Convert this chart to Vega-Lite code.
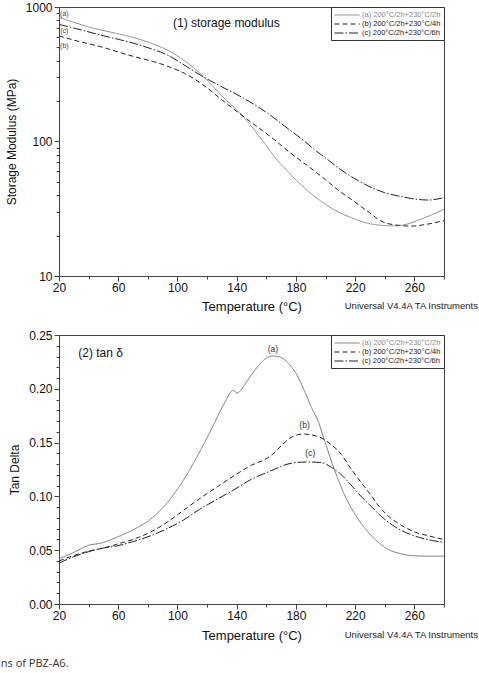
{
  "$schema": "https://vega.github.io/schema/vega-lite/v6.json",
  "background": "white",
  "padding": {"left": 0, "top": 0, "right": 0, "bottom": 0},
  "config": {
    "font": "Liberation Sans",
    "view": {"stroke": "#444", "strokeWidth": 1},
    "axis": {
      "grid": false,
      "domainColor": "#444",
      "tickColor": "#444",
      "labelColor": "#111",
      "titleColor": "#111",
      "labelFont": "Liberation Sans",
      "titleFont": "Liberation Sans",
      "labelFontSize": 12,
      "titleFontSize": 12,
      "titleFontWeight": "normal",
      "labelOverlap": false,
      "labelFlush": false,
      "tickCount": 100
    },
    "legend": {
      "title": null,
      "orient": "top-right",
      "offset": 0,
      "padding": 3,
      "strokeColor": "#333",
      "fillColor": "white",
      "symbolType": "M-1,0H4.6",
      "symbolSize": 81,
      "symbolStrokeWidth": 1,
      "labelFont": "Liberation Sans",
      "labelFontSize": 7.5,
      "labelOffset": 18,
      "rowPadding": 0,
      "labelLimit": 200
    }
  },
  "datasets": {
    "modulus": [
      {"T": 20, "E": 838, "sample": "(a) 200°C/2h+230°C/2h"},
      {"T": 30, "E": 770, "sample": "(a) 200°C/2h+230°C/2h"},
      {"T": 41, "E": 706, "sample": "(a) 200°C/2h+230°C/2h"},
      {"T": 55, "E": 650, "sample": "(a) 200°C/2h+230°C/2h"},
      {"T": 70.6, "E": 591, "sample": "(a) 200°C/2h+230°C/2h"},
      {"T": 82, "E": 540, "sample": "(a) 200°C/2h+230°C/2h"},
      {"T": 93, "E": 479, "sample": "(a) 200°C/2h+230°C/2h"},
      {"T": 100, "E": 432, "sample": "(a) 200°C/2h+230°C/2h"},
      {"T": 107, "E": 382, "sample": "(a) 200°C/2h+230°C/2h"},
      {"T": 116, "E": 315, "sample": "(a) 200°C/2h+230°C/2h"},
      {"T": 123, "E": 264, "sample": "(a) 200°C/2h+230°C/2h"},
      {"T": 130, "E": 218, "sample": "(a) 200°C/2h+230°C/2h"},
      {"T": 140, "E": 172, "sample": "(a) 200°C/2h+230°C/2h"},
      {"T": 147.5, "E": 140, "sample": "(a) 200°C/2h+230°C/2h"},
      {"T": 155, "E": 110, "sample": "(a) 200°C/2h+230°C/2h"},
      {"T": 160, "E": 93, "sample": "(a) 200°C/2h+230°C/2h"},
      {"T": 165.5, "E": 77, "sample": "(a) 200°C/2h+230°C/2h"},
      {"T": 175, "E": 59, "sample": "(a) 200°C/2h+230°C/2h"},
      {"T": 184, "E": 47, "sample": "(a) 200°C/2h+230°C/2h"},
      {"T": 195, "E": 37.3, "sample": "(a) 200°C/2h+230°C/2h"},
      {"T": 206, "E": 31, "sample": "(a) 200°C/2h+230°C/2h"},
      {"T": 218, "E": 27, "sample": "(a) 200°C/2h+230°C/2h"},
      {"T": 229, "E": 24.6, "sample": "(a) 200°C/2h+230°C/2h"},
      {"T": 238, "E": 23.8, "sample": "(a) 200°C/2h+230°C/2h"},
      {"T": 247, "E": 23.6, "sample": "(a) 200°C/2h+230°C/2h"},
      {"T": 255, "E": 24.3, "sample": "(a) 200°C/2h+230°C/2h"},
      {"T": 263, "E": 26.1, "sample": "(a) 200°C/2h+230°C/2h"},
      {"T": 272, "E": 28.6, "sample": "(a) 200°C/2h+230°C/2h"},
      {"T": 280, "E": 31.3, "sample": "(a) 200°C/2h+230°C/2h"},

      {"T": 20, "E": 609, "sample": "(b) 200°C/2h+230°C/4h"},
      {"T": 35, "E": 549, "sample": "(b) 200°C/2h+230°C/4h"},
      {"T": 48, "E": 507, "sample": "(b) 200°C/2h+230°C/4h"},
      {"T": 60, "E": 463, "sample": "(b) 200°C/2h+230°C/4h"},
      {"T": 71, "E": 427, "sample": "(b) 200°C/2h+230°C/4h"},
      {"T": 83, "E": 395, "sample": "(b) 200°C/2h+230°C/4h"},
      {"T": 93, "E": 364, "sample": "(b) 200°C/2h+230°C/4h"},
      {"T": 105, "E": 320, "sample": "(b) 200°C/2h+230°C/4h"},
      {"T": 116, "E": 270, "sample": "(b) 200°C/2h+230°C/4h"},
      {"T": 130, "E": 204, "sample": "(b) 200°C/2h+230°C/4h"},
      {"T": 147.5, "E": 145, "sample": "(b) 200°C/2h+230°C/4h"},
      {"T": 155, "E": 126, "sample": "(b) 200°C/2h+230°C/4h"},
      {"T": 165.5, "E": 103, "sample": "(b) 200°C/2h+230°C/4h"},
      {"T": 174, "E": 86, "sample": "(b) 200°C/2h+230°C/4h"},
      {"T": 184, "E": 71, "sample": "(b) 200°C/2h+230°C/4h"},
      {"T": 192, "E": 61, "sample": "(b) 200°C/2h+230°C/4h"},
      {"T": 200, "E": 52, "sample": "(b) 200°C/2h+230°C/4h"},
      {"T": 208, "E": 44, "sample": "(b) 200°C/2h+230°C/4h"},
      {"T": 218, "E": 36.7, "sample": "(b) 200°C/2h+230°C/4h"},
      {"T": 228, "E": 30.5, "sample": "(b) 200°C/2h+230°C/4h"},
      {"T": 240, "E": 24.9, "sample": "(b) 200°C/2h+230°C/4h"},
      {"T": 250, "E": 23.8, "sample": "(b) 200°C/2h+230°C/4h"},
      {"T": 258, "E": 23.5, "sample": "(b) 200°C/2h+230°C/4h"},
      {"T": 268, "E": 24.2, "sample": "(b) 200°C/2h+230°C/4h"},
      {"T": 280, "E": 25.8, "sample": "(b) 200°C/2h+230°C/4h"},

      {"T": 20, "E": 743, "sample": "(c) 200°C/2h+230°C/6h"},
      {"T": 35, "E": 675, "sample": "(c) 200°C/2h+230°C/6h"},
      {"T": 48, "E": 619, "sample": "(c) 200°C/2h+230°C/6h"},
      {"T": 60, "E": 575, "sample": "(c) 200°C/2h+230°C/6h"},
      {"T": 70.6, "E": 537, "sample": "(c) 200°C/2h+230°C/6h"},
      {"T": 82, "E": 490, "sample": "(c) 200°C/2h+230°C/6h"},
      {"T": 93.2, "E": 440, "sample": "(c) 200°C/2h+230°C/6h"},
      {"T": 105, "E": 368, "sample": "(c) 200°C/2h+230°C/6h"},
      {"T": 115.8, "E": 310, "sample": "(c) 200°C/2h+230°C/6h"},
      {"T": 130, "E": 255, "sample": "(c) 200°C/2h+230°C/6h"},
      {"T": 143, "E": 215, "sample": "(c) 200°C/2h+230°C/6h"},
      {"T": 152, "E": 188, "sample": "(c) 200°C/2h+230°C/6h"},
      {"T": 161, "E": 162, "sample": "(c) 200°C/2h+230°C/6h"},
      {"T": 172, "E": 131, "sample": "(c) 200°C/2h+230°C/6h"},
      {"T": 183.6, "E": 105, "sample": "(c) 200°C/2h+230°C/6h"},
      {"T": 192, "E": 88, "sample": "(c) 200°C/2h+230°C/6h"},
      {"T": 201.7, "E": 73, "sample": "(c) 200°C/2h+230°C/6h"},
      {"T": 210, "E": 62, "sample": "(c) 200°C/2h+230°C/6h"},
      {"T": 217.6, "E": 54.7, "sample": "(c) 200°C/2h+230°C/6h"},
      {"T": 230, "E": 46, "sample": "(c) 200°C/2h+230°C/6h"},
      {"T": 240, "E": 41.6, "sample": "(c) 200°C/2h+230°C/6h"},
      {"T": 251.4, "E": 38.9, "sample": "(c) 200°C/2h+230°C/6h"},
      {"T": 260, "E": 37.4, "sample": "(c) 200°C/2h+230°C/6h"},
      {"T": 269.5, "E": 36.7, "sample": "(c) 200°C/2h+230°C/6h"},
      {"T": 280, "E": 38.3, "sample": "(c) 200°C/2h+230°C/6h"}
    ],
    "tand": [
      {"T": 20, "tan": 0.042, "sample": "(a) 200°C/2h+230°C/2h"},
      {"T": 30, "tan": 0.048, "sample": "(a) 200°C/2h+230°C/2h"},
      {"T": 40, "tan": 0.0545, "sample": "(a) 200°C/2h+230°C/2h"},
      {"T": 48, "tan": 0.0565, "sample": "(a) 200°C/2h+230°C/2h"},
      {"T": 59, "tan": 0.062, "sample": "(a) 200°C/2h+230°C/2h"},
      {"T": 70, "tan": 0.069, "sample": "(a) 200°C/2h+230°C/2h"},
      {"T": 82, "tan": 0.079, "sample": "(a) 200°C/2h+230°C/2h"},
      {"T": 93, "tan": 0.094, "sample": "(a) 200°C/2h+230°C/2h"},
      {"T": 104, "tan": 0.115, "sample": "(a) 200°C/2h+230°C/2h"},
      {"T": 110, "tan": 0.129, "sample": "(a) 200°C/2h+230°C/2h"},
      {"T": 116, "tan": 0.144, "sample": "(a) 200°C/2h+230°C/2h"},
      {"T": 122, "tan": 0.16, "sample": "(a) 200°C/2h+230°C/2h"},
      {"T": 127, "tan": 0.174, "sample": "(a) 200°C/2h+230°C/2h"},
      {"T": 133, "tan": 0.19, "sample": "(a) 200°C/2h+230°C/2h"},
      {"T": 136, "tan": 0.197, "sample": "(a) 200°C/2h+230°C/2h"},
      {"T": 138, "tan": 0.1985, "sample": "(a) 200°C/2h+230°C/2h"},
      {"T": 140, "tan": 0.196, "sample": "(a) 200°C/2h+230°C/2h"},
      {"T": 142, "tan": 0.1975, "sample": "(a) 200°C/2h+230°C/2h"},
      {"T": 145, "tan": 0.203, "sample": "(a) 200°C/2h+230°C/2h"},
      {"T": 150, "tan": 0.213, "sample": "(a) 200°C/2h+230°C/2h"},
      {"T": 155, "tan": 0.222, "sample": "(a) 200°C/2h+230°C/2h"},
      {"T": 160, "tan": 0.2285, "sample": "(a) 200°C/2h+230°C/2h"},
      {"T": 165, "tan": 0.2305, "sample": "(a) 200°C/2h+230°C/2h"},
      {"T": 170, "tan": 0.229, "sample": "(a) 200°C/2h+230°C/2h"},
      {"T": 175, "tan": 0.2235, "sample": "(a) 200°C/2h+230°C/2h"},
      {"T": 180, "tan": 0.2145, "sample": "(a) 200°C/2h+230°C/2h"},
      {"T": 185, "tan": 0.2005, "sample": "(a) 200°C/2h+230°C/2h"},
      {"T": 190, "tan": 0.184, "sample": "(a) 200°C/2h+230°C/2h"},
      {"T": 195, "tan": 0.17, "sample": "(a) 200°C/2h+230°C/2h"},
      {"T": 200, "tan": 0.149, "sample": "(a) 200°C/2h+230°C/2h"},
      {"T": 206, "tan": 0.125, "sample": "(a) 200°C/2h+230°C/2h"},
      {"T": 212, "tan": 0.104, "sample": "(a) 200°C/2h+230°C/2h"},
      {"T": 217.5, "tan": 0.089, "sample": "(a) 200°C/2h+230°C/2h"},
      {"T": 223, "tan": 0.077, "sample": "(a) 200°C/2h+230°C/2h"},
      {"T": 229, "tan": 0.0665, "sample": "(a) 200°C/2h+230°C/2h"},
      {"T": 236, "tan": 0.057, "sample": "(a) 200°C/2h+230°C/2h"},
      {"T": 242, "tan": 0.051, "sample": "(a) 200°C/2h+230°C/2h"},
      {"T": 250, "tan": 0.047, "sample": "(a) 200°C/2h+230°C/2h"},
      {"T": 260, "tan": 0.0448, "sample": "(a) 200°C/2h+230°C/2h"},
      {"T": 270, "tan": 0.0445, "sample": "(a) 200°C/2h+230°C/2h"},
      {"T": 280, "tan": 0.0445, "sample": "(a) 200°C/2h+230°C/2h"},

      {"T": 20, "tan": 0.04, "sample": "(b) 200°C/2h+230°C/4h"},
      {"T": 30, "tan": 0.045, "sample": "(b) 200°C/2h+230°C/4h"},
      {"T": 41, "tan": 0.0495, "sample": "(b) 200°C/2h+230°C/4h"},
      {"T": 50, "tan": 0.052, "sample": "(b) 200°C/2h+230°C/4h"},
      {"T": 59, "tan": 0.0555, "sample": "(b) 200°C/2h+230°C/4h"},
      {"T": 70, "tan": 0.06, "sample": "(b) 200°C/2h+230°C/4h"},
      {"T": 82, "tan": 0.067, "sample": "(b) 200°C/2h+230°C/4h"},
      {"T": 93, "tan": 0.076, "sample": "(b) 200°C/2h+230°C/4h"},
      {"T": 104, "tan": 0.087, "sample": "(b) 200°C/2h+230°C/4h"},
      {"T": 115, "tan": 0.098, "sample": "(b) 200°C/2h+230°C/4h"},
      {"T": 127, "tan": 0.109, "sample": "(b) 200°C/2h+230°C/4h"},
      {"T": 138, "tan": 0.119, "sample": "(b) 200°C/2h+230°C/4h"},
      {"T": 150, "tan": 0.129, "sample": "(b) 200°C/2h+230°C/4h"},
      {"T": 160, "tan": 0.135, "sample": "(b) 200°C/2h+230°C/4h"},
      {"T": 165, "tan": 0.14, "sample": "(b) 200°C/2h+230°C/4h"},
      {"T": 170, "tan": 0.147, "sample": "(b) 200°C/2h+230°C/4h"},
      {"T": 177, "tan": 0.155, "sample": "(b) 200°C/2h+230°C/4h"},
      {"T": 185, "tan": 0.158, "sample": "(b) 200°C/2h+230°C/4h"},
      {"T": 191, "tan": 0.157, "sample": "(b) 200°C/2h+230°C/4h"},
      {"T": 197, "tan": 0.1545, "sample": "(b) 200°C/2h+230°C/4h"},
      {"T": 204, "tan": 0.148, "sample": "(b) 200°C/2h+230°C/4h"},
      {"T": 210.7, "tan": 0.139, "sample": "(b) 200°C/2h+230°C/4h"},
      {"T": 217, "tan": 0.126, "sample": "(b) 200°C/2h+230°C/4h"},
      {"T": 224, "tan": 0.113, "sample": "(b) 200°C/2h+230°C/4h"},
      {"T": 231, "tan": 0.1005, "sample": "(b) 200°C/2h+230°C/4h"},
      {"T": 235.4, "tan": 0.092, "sample": "(b) 200°C/2h+230°C/4h"},
      {"T": 243, "tan": 0.081, "sample": "(b) 200°C/2h+230°C/4h"},
      {"T": 251.4, "tan": 0.073, "sample": "(b) 200°C/2h+230°C/4h"},
      {"T": 260, "tan": 0.067, "sample": "(b) 200°C/2h+230°C/4h"},
      {"T": 269.5, "tan": 0.0634, "sample": "(b) 200°C/2h+230°C/4h"},
      {"T": 280, "tan": 0.0598, "sample": "(b) 200°C/2h+230°C/4h"},

      {"T": 20, "tan": 0.038, "sample": "(c) 200°C/2h+230°C/6h"},
      {"T": 30, "tan": 0.044, "sample": "(c) 200°C/2h+230°C/6h"},
      {"T": 41, "tan": 0.049, "sample": "(c) 200°C/2h+230°C/6h"},
      {"T": 50, "tan": 0.052, "sample": "(c) 200°C/2h+230°C/6h"},
      {"T": 59, "tan": 0.054, "sample": "(c) 200°C/2h+230°C/6h"},
      {"T": 70, "tan": 0.058, "sample": "(c) 200°C/2h+230°C/6h"},
      {"T": 82, "tan": 0.0635, "sample": "(c) 200°C/2h+230°C/6h"},
      {"T": 93, "tan": 0.07, "sample": "(c) 200°C/2h+230°C/6h"},
      {"T": 104, "tan": 0.078, "sample": "(c) 200°C/2h+230°C/6h"},
      {"T": 115, "tan": 0.088, "sample": "(c) 200°C/2h+230°C/6h"},
      {"T": 127, "tan": 0.0975, "sample": "(c) 200°C/2h+230°C/6h"},
      {"T": 138, "tan": 0.106, "sample": "(c) 200°C/2h+230°C/6h"},
      {"T": 150, "tan": 0.116, "sample": "(c) 200°C/2h+230°C/6h"},
      {"T": 160, "tan": 0.122, "sample": "(c) 200°C/2h+230°C/6h"},
      {"T": 166, "tan": 0.1255, "sample": "(c) 200°C/2h+230°C/6h"},
      {"T": 172, "tan": 0.129, "sample": "(c) 200°C/2h+230°C/6h"},
      {"T": 180, "tan": 0.1315, "sample": "(c) 200°C/2h+230°C/6h"},
      {"T": 188, "tan": 0.132, "sample": "(c) 200°C/2h+230°C/6h"},
      {"T": 197, "tan": 0.1315, "sample": "(c) 200°C/2h+230°C/6h"},
      {"T": 204, "tan": 0.127, "sample": "(c) 200°C/2h+230°C/6h"},
      {"T": 210, "tan": 0.121, "sample": "(c) 200°C/2h+230°C/6h"},
      {"T": 217, "tan": 0.111, "sample": "(c) 200°C/2h+230°C/6h"},
      {"T": 224, "tan": 0.1, "sample": "(c) 200°C/2h+230°C/6h"},
      {"T": 231, "tan": 0.0905, "sample": "(c) 200°C/2h+230°C/6h"},
      {"T": 238, "tan": 0.081, "sample": "(c) 200°C/2h+230°C/6h"},
      {"T": 245, "tan": 0.0735, "sample": "(c) 200°C/2h+230°C/6h"},
      {"T": 254, "tan": 0.0665, "sample": "(c) 200°C/2h+230°C/6h"},
      {"T": 263, "tan": 0.062, "sample": "(c) 200°C/2h+230°C/6h"},
      {"T": 272, "tan": 0.059, "sample": "(c) 200°C/2h+230°C/6h"},
      {"T": 280, "tan": 0.0573, "sample": "(c) 200°C/2h+230°C/6h"}
    ],
    "modulusTags": [
      {"T": 23.6, "E": 887, "tag": "(a)"},
      {"T": 23.6, "E": 667, "tag": "(c)"},
      {"T": 23.6, "E": 513, "tag": "(b)"}
    ],
    "tandTags": [
      {"T": 164.4, "tan": 0.2367, "tag": "(a)"},
      {"T": 185.8, "tan": 0.1662, "tag": "(b)"},
      {"T": 189.7, "tan": 0.1402, "tag": "(c)"}
    ]
  },
  "title": {
    "text": "ns of PBZ-A6.",
    "orient": "bottom",
    "anchor": "start",
    "font": "Open Sans",
    "fontSize": 11,
    "fontWeight": "normal",
    "color": "#333",
    "offset": 15,
    "dx": -4
  },
  "spacing": 14,
  "resolve": {"scale": {"color": "independent", "strokeDash": "independent"}},
  "vconcat": [
    {
      "width": 385,
      "height": 269,
      "title": {
        "text": "Universal V4.4A TA Instruments",
        "orient": "bottom",
        "anchor": "end",
        "frame": "group",
        "font": "Liberation Sans",
        "fontSize": 9.5,
        "fontWeight": "normal",
        "color": "#222",
        "offset": -12,
        "dx": 34
      },
      "layer": [
        {
          "data": {"name": "modulus"},
          "mark": {"type": "line", "strokeWidth": 1, "interpolate": "monotone"},
          "encoding": {
            "x": {
              "field": "T", "type": "quantitative",
              "scale": {"domain": [20, 280], "nice": false, "zero": false},
              "axis": {
                "title": "Temperature (°C)",
                "titleFontSize": 13,
                "tickCount": 100,
                "values": [20, 40, 60, 80, 100, 120, 140, 160, 180, 200, 220, 240, 260, 280],
                "labelExpr": "datum.value % 40 === 20 ? datum.label : ''",
                "tickSize": {"condition": {"test": "datum.value % 40 === 20", "value": 5}, "value": 3},
                "labelOverlap": false,
                "labelPadding": 1,
                "titlePadding": 7
              }
            },
            "y": {
              "field": "E", "type": "quantitative",
              "scale": {"type": "log", "domain": [10, 1000], "nice": false},
              "axis": {
                "title": "Storage Modulus (MPa)",
                "tickCount": 100,
                "values": [10, 20, 30, 40, 50, 60, 70, 80, 90, 100, 200, 300, 400, 500, 600, 700, 800, 900, 1000],
                "format": "d",
                "labelExpr": "datum.value === 10 || datum.value === 100 || datum.value === 1000 ? datum.label : ''",
                "tickSize": {"condition": {"test": "datum.value === 10 || datum.value === 100 || datum.value === 1000", "value": 5}, "value": 3},
                "labelOverlap": false,
                "labelPadding": 2,
                "titlePadding": 7
              }
            },
            "color": {
              "field": "sample", "type": "nominal",
              "scale": {
                "domain": ["(a) 200°C/2h+230°C/2h", "(b) 200°C/2h+230°C/4h", "(c) 200°C/2h+230°C/6h"],
                "range": ["#8a8a8a", "#222222", "#222222"]
              },
              "legend": {"encode": {"labels": {"update": {"fill": {"signal": "indexof(datum.label, '(a)') === 0 ? '#8a8a8a' : '#222222'"}}}}}
            },
            "strokeDash": {
              "field": "sample", "type": "nominal",
              "scale": {
                "domain": ["(a) 200°C/2h+230°C/2h", "(b) 200°C/2h+230°C/4h", "(c) 200°C/2h+230°C/6h"],
                "range": [[1, 0], [5, 3], [9, 2, 1.5, 2]]
              },
              "legend": {"encode": {"labels": {"update": {"fill": {"signal": "indexof(datum.label, '(a)') === 0 ? '#8a8a8a' : '#222222'"}}}}}
            }
          }
        },
        {
          "data": {"name": "modulusTags"},
          "mark": {"type": "text", "font": "Liberation Sans", "fontSize": 7, "color": "#444"},
          "encoding": {
            "x": {"field": "T", "type": "quantitative"},
            "y": {"field": "E", "type": "quantitative"},
            "text": {"field": "tag"}
          }
        },
        {
          "data": {"values": [{"T": 97, "E": 760, "note": "(1) storage modulus"}]},
          "mark": {"type": "text", "align": "left", "font": "Liberation Sans", "fontSize": 12, "color": "#111"},
          "encoding": {
            "x": {"field": "T", "type": "quantitative"},
            "y": {"field": "E", "type": "quantitative"},
            "text": {"field": "note"}
          }
        }
      ]
    },
    {
      "width": 385,
      "height": 269,
      "title": {
        "text": "Universal V4.4A TA Instruments",
        "orient": "bottom",
        "anchor": "end",
        "frame": "group",
        "font": "Liberation Sans",
        "fontSize": 9.5,
        "fontWeight": "normal",
        "color": "#222",
        "offset": -12,
        "dx": 34
      },
      "layer": [
        {
          "data": {"name": "tand"},
          "mark": {"type": "line", "strokeWidth": 1, "interpolate": "monotone"},
          "encoding": {
            "x": {
              "field": "T", "type": "quantitative",
              "scale": {"domain": [20, 280], "nice": false, "zero": false},
              "axis": {
                "title": "Temperature (°C)",
                "titleFontSize": 13,
                "tickCount": 100,
                "values": [20, 40, 60, 80, 100, 120, 140, 160, 180, 200, 220, 240, 260, 280],
                "labelExpr": "datum.value % 40 === 20 ? datum.label : ''",
                "tickSize": {"condition": {"test": "datum.value % 40 === 20", "value": 5}, "value": 3},
                "labelOverlap": false,
                "labelPadding": 1,
                "titlePadding": 8
              }
            },
            "y": {
              "field": "tan", "type": "quantitative",
              "scale": {"domain": [0, 0.25], "nice": false},
              "axis": {
                "title": "Tan Delta",
                "tickCount": 100,
                "values": [0, 0.01, 0.02, 0.03, 0.04, 0.05, 0.06, 0.07, 0.08, 0.09, 0.1, 0.11, 0.12, 0.13, 0.14, 0.15, 0.16, 0.17, 0.18, 0.19, 0.2, 0.21, 0.22, 0.23, 0.24, 0.25],
                "format": ".2f",
                "labelExpr": "indexof(['0.00', '0.05', '0.10', '0.15', '0.20', '0.25'], datum.label) >= 0 ? datum.label : ''",
                "tickSize": {"condition": {"test": "indexof([0, 5, 10, 15, 20, 25], round(datum.value * 100)) >= 0", "value": 5}, "value": 3},
                "labelOverlap": false,
                "labelPadding": 2,
                "titlePadding": 7
              }
            },
            "color": {
              "field": "sample", "type": "nominal",
              "scale": {
                "domain": ["(a) 200°C/2h+230°C/2h", "(b) 200°C/2h+230°C/4h", "(c) 200°C/2h+230°C/6h"],
                "range": ["#777777", "#222222", "#222222"]
              },
              "legend": {"encode": {"labels": {"update": {"fill": {"signal": "indexof(datum.label, '(a)') === 0 ? '#8a8a8a' : '#222222'"}}}}}
            },
            "strokeDash": {
              "field": "sample", "type": "nominal",
              "scale": {
                "domain": ["(a) 200°C/2h+230°C/2h", "(b) 200°C/2h+230°C/4h", "(c) 200°C/2h+230°C/6h"],
                "range": [[1, 0], [5, 3], [9, 2, 1.5, 2]]
              },
              "legend": {"encode": {"labels": {"update": {"fill": {"signal": "indexof(datum.label, '(a)') === 0 ? '#8a8a8a' : '#222222'"}}}}}
            }
          }
        },
        {
          "data": {"name": "tandTags"},
          "mark": {"type": "text", "font": "Liberation Sans", "fontSize": 8.5, "color": "#333"},
          "encoding": {
            "x": {"field": "T", "type": "quantitative"},
            "y": {"field": "tan", "type": "quantitative"},
            "text": {"field": "tag"}
          }
        },
        {
          "data": {"values": [{"T": 33, "tan": 0.233, "note": "(2) tan δ"}]},
          "mark": {"type": "text", "align": "left", "font": "Liberation Sans", "fontSize": 12, "color": "#111"},
          "encoding": {
            "x": {"field": "T", "type": "quantitative"},
            "y": {"field": "tan", "type": "quantitative"},
            "text": {"field": "note"}
          }
        }
      ]
    }
  ]
}
